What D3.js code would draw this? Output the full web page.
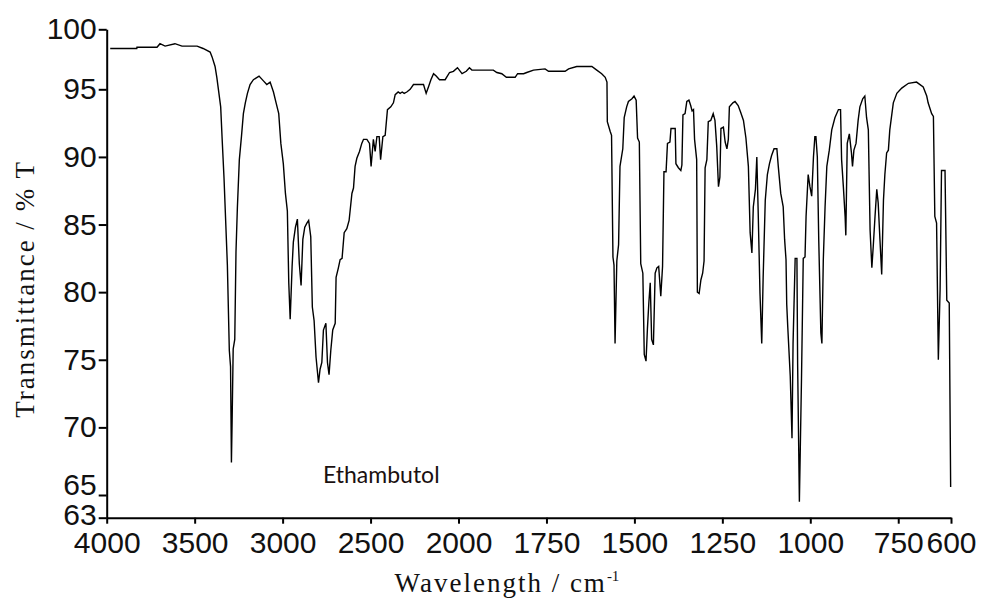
<!DOCTYPE html>
<html>
<head>
<meta charset="utf-8">
<script src="https://cdn.jsdelivr.net/npm/d3@7/dist/d3.min.js"></script>
<style>
  html, body { margin: 0; padding: 0; background: #fff; }
  svg { display: block; }
</style>
</head>
<body>
<svg id="chart" width="984" height="598"></svg>
<script>
// ---- data ----
const wavenumber = [
  3980,3829,3828,3714,3697,3668,3612,3572,3486,3452,3412,3401,3384,3374,3365,3352,3344,3333,3325,3314,
  3303,3296,3291,3287,3281,3272,3265,3257,3246,3234,3223,3212,3200,3185,3166,3134,3109,3090,3071,3052,
  3037,3022,3010,2996,2984,2973,2965,2957,2946,2939,2927,2916,2905,2895,2885,2874,2862,2852,2840,2831,
  2821,2810,2796,2787,2777,2768,2754,2745,2736,2726,2715,2701,2696,2683,2673,2662,2650,2635,2622,2606,
  2597,2588,2578,2563,2550,2540,2521,2506,2497,2484,2474,2464,2451,2443,2430,2417,2404,2385,2370,2360,
  2343,2332,2320,2309,2294,2275,2256,2228,2199,2184,2171,2157,2142,2127,2108,2076,2051,2029,2006,
  1990,1978,1969,1962,1901,1891,1877,1864,1839,1832,1815,1806,1787,1754,1744,1697,1687,1664,1621,1607,
  1593,1583,1578,1577,1569,1565,1561,1558,1555,1550,1545,1541,1533,1529,1522,1517,1507,1501,1495,1491,
  1486,1482,1476,1472,1467,1463,1459,1455,1451,1446,1441,1436,1431,1425,1420,1416,1410,1406,1399,1396,
  1384,1382,1375,1368,1365,1362,1356,1351,1345,1340,1336,1332,1329,1323,1321,1316,1311,1306,1302,1299,
  1294,1290,1283,1276,1271,1266,1261,1257,1254,1247,1242,1237,1233,1230,1220,1214,1205,1198,1190,1183,
  1176,1171,1166,1162,1156,1152,1148,1143,1138,1134,1128,1122,1116,1110,1103,1095,1091,1084,1077,1073,
  1069,1067,1064,1057,1052,1049,1043,1038,1036,1031,1025,1020,1015,1012,1006,1001,996,991,987,984,
  980,976,970,967,963,958,953,946,939,930,920,914,911,906,901,899,895,889,883,880,
  876,870,864,859,851,845,840,835,830,825,821,816,811,807,802,797,792,788,783,778,
  774,764,754,740,721,698,679,669,665,655,650,646,641,636,631,627,617,612,605,601
];
const transmittance = [
  98.4,98.4,98.5,98.5,98.8,98.6,98.8,98.6,98.6,98.4,98.1,97.7,96.9,96.0,95.0,93.7,91.4,88.4,85.7,82.0,
  75.7,74.5,67.4,70.5,75.8,76.5,83.0,86.3,89.8,91.5,93.2,94.0,94.7,95.4,95.8,96.1,95.7,95.4,95.6,94.8,
  94.0,93.2,91.0,89.5,87.3,86.0,80.7,78.0,81.9,83.7,84.8,85.4,82.1,80.5,83.9,84.8,85.1,85.3,84.1,78.9,
  77.9,75.2,73.3,74.3,74.8,77.2,77.7,74.8,73.9,75.7,77.2,77.7,81.1,81.8,82.4,82.5,84.4,84.7,85.3,87.3,
  87.7,89.3,89.9,90.4,91.0,91.3,91.3,91.0,89.3,91.3,90.4,91.5,91.5,89.8,91.5,91.6,93.5,93.7,94.0,94.6,
  94.8,94.7,94.8,94.7,94.8,95.0,95.4,95.4,95.4,94.7,95.2,95.8,96.3,96.1,95.8,95.8,96.4,96.5,96.8,
  96.3,96.5,96.8,96.6,96.6,96.4,96.3,96.0,96.0,96.3,96.3,96.4,96.6,96.7,96.5,96.5,96.7,96.9,96.9,96.6,
  96.3,96.0,95.6,92.6,91.9,91.6,82.6,82.0,76.2,82.3,83.5,89.3,90.6,92.9,93.7,94.1,94.3,94.5,94.2,91.4,
  91.1,82.1,81.4,75.4,74.9,77.3,79.2,80.7,76.5,76.1,81.4,81.8,81.9,79.7,81.9,88.9,88.9,91.0,91.1,92.1,
  92.1,89.5,89.2,89.0,89.4,93.1,93.2,94.1,94.2,93.8,93.4,93.5,91.3,89.8,80.0,79.9,80.9,81.4,82.3,89.2,
  89.8,92.6,92.7,93.2,92.7,90.8,87.8,88.5,92.1,92.2,91.1,90.6,91.3,93.7,94.0,94.1,93.8,93.3,92.7,91.4,
  89.3,84.4,82.9,86.3,87.6,90.0,85.8,79.9,76.2,81.1,86.8,88.7,89.5,90.1,90.6,90.6,89.3,87.3,86.3,83.9,
  82.4,79.1,77.4,73.8,69.2,76.2,82.5,82.5,74.7,64.4,73.6,82.5,82.6,85.6,88.7,87.8,87.1,90.0,91.5,91.5,
  90.0,83.9,77.0,76.2,82.4,86.3,89.3,90.5,92.0,92.9,93.5,93.5,89.8,87.8,85.6,84.2,91.0,91.7,90.3,89.3,
  90.5,91.0,92.7,93.7,94.3,94.5,92.9,92.0,84.6,81.8,83.4,85.6,87.6,86.6,83.9,81.3,86.8,88.7,90.3,90.5,
  92.0,94.0,94.7,95.1,95.5,95.6,95.2,94.5,94.0,93.2,93.0,85.6,85.1,75.0,80.2,89.0,89.0,79.4,79.2,65.6
];
const xTickValues = [4000,3500,3000,2500,2000,1750,1500,1250,1000,750,600];
const yTickValues = [63,65,70,75,80,85,90,95,100];
const xTitle = "Wavelength / cm";
const xTitleSup = "-1";
const yTitle = "Transmittance / % T";
const sampleLabel = "Ethambutol";

// ---- layout ----
const plotLeft = 106.7, plotRight = 951, plotTop = 29.3, plotBottom = 517.7;
const svg = d3.select("#chart");

// IR axes: wavenumber scale changes at 2000 cm-1; y axis labelled 63..100
const x = d3.scaleLinear()
  .domain([4000, 2000, 600])
  .range([plotLeft, plotLeft + (plotRight - plotLeft) * 0.4167, plotRight]);
const y = d3.scaleLinear()
  .domain([63, 65, 95, 100])
  .range([plotBottom, 495, 89.3, plotTop]);

const data = wavenumber.map((w, i) => ({w, t: transmittance[i]}));

// spectrum
svg.append("path")
  .datum(data)
  .attr("fill", "none")
  .attr("stroke", "#000")
  .attr("stroke-width", 1.4)
  .attr("stroke-linejoin", "miter")
  .attr("d", d3.line().x(d => x(d.w)).y(d => y(d.t)));

// axes
const xAxis = svg.append("g")
  .attr("transform", `translate(0,${plotBottom})`)
  .call(d3.axisBottom(x).tickValues(xTickValues).tickFormat(d3.format("d"))
        .tickSize(6).tickSizeOuter(0).tickPadding(8));
const yAxis = svg.append("g")
  .attr("transform", `translate(${plotLeft},0)`)
  .call(d3.axisLeft(y).tickValues(yTickValues).tickFormat(d3.format("d"))
        .tickSize(8).tickSizeOuter(0).tickPadding(2));

[xAxis, yAxis].forEach(g => {
  g.select(".domain").attr("stroke", "#000").attr("stroke-width", 2);
  g.selectAll(".tick line").attr("stroke", "#000").attr("stroke-width", 2);
  g.selectAll(".tick text")
    .attr("fill", "#111")
    .style("font-family", "'Liberation Sans', Arial, sans-serif")
    .style("font-size", "30px");
});
// as in the reference, the "65" label sits just above its tick, "63" slightly raised
yAxis.selectAll(".tick text")
  .attr("y", d => d === 65 ? -10 : (d === 63 ? -3 : 0));

// axis titles
const xt = svg.append("text")
  .attr("x", 507).attr("y", 592)
  .attr("text-anchor", "middle")
  .style("font-family", "'Liberation Serif', 'Times New Roman', serif")
  .style("font-size", "27px")
  .style("letter-spacing", "2px")
  .attr("fill", "#111");
xt.append("tspan").text(xTitle);
xt.append("tspan").attr("dy", -11).style("font-size", "15px").style("letter-spacing", "0px").text(xTitleSup);

svg.append("text")
  .attr("transform", "translate(34,289) rotate(-90)")
  .attr("text-anchor", "middle")
  .style("font-family", "'Liberation Serif', 'Times New Roman', serif")
  .style("font-size", "27px")
  .style("letter-spacing", "2px")
  .attr("fill", "#111")
  .text(yTitle);

svg.append("text")
  .attr("x", 323).attr("y", 483)
  .style("font-family", "Lato, 'Open Sans', sans-serif")
  .style("font-size", "23px")
  .attr("fill", "#1a1010")
  .text(sampleLabel);
</script>
</body>
</html>
